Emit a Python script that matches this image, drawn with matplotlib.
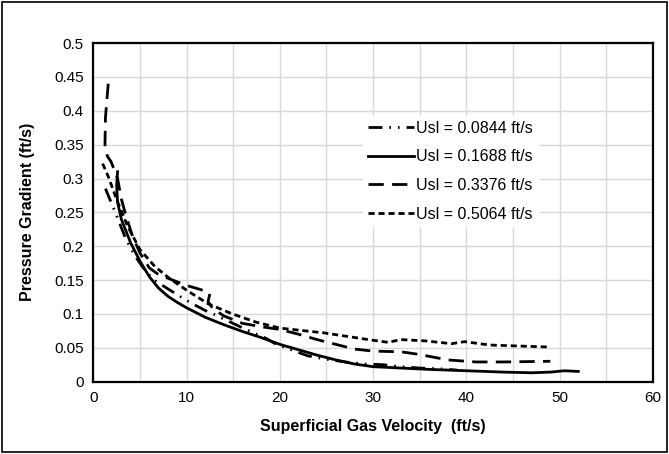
import matplotlib
matplotlib.use("Agg")
import matplotlib.pyplot as plt
from matplotlib.patches import Rectangle

plt.rcParams['font.family'] = ['Liberation Sans', 'DejaVu Sans']

# Usl = 0.0844 ft/s
x1 = [1.3, 1.9, 2.5, 3.5, 4.5, 5.5, 6.5, 8.0, 9.5, 10.5, 12.0, 13.0, 14.2, 15.6, 17.0, 18.5, 19.5, 21.0, 23.0, 25.0, 27.0, 29.0, 31.0, 33.0, 35.0, 37.0, 39.0]
y1 = [0.285, 0.265, 0.245, 0.21, 0.185, 0.165, 0.15, 0.137, 0.124, 0.116, 0.105, 0.099, 0.091, 0.082, 0.073, 0.064, 0.056, 0.048, 0.038, 0.033, 0.029, 0.026, 0.025, 0.022, 0.020, 0.019, 0.017]

# Usl = 0.1688 ft/s
x2 = [2.6, 2.5, 2.6, 3.0, 4.0, 5.0, 6.0, 7.0, 8.0, 9.0, 10.0, 12.0, 14.0, 16.0, 18.0, 20.0, 22.0, 24.0, 26.0, 28.0, 30.0, 33.0, 36.0, 40.0, 44.0, 47.0, 49.0, 50.5, 52.0]
y2 = [0.31, 0.29, 0.265, 0.24, 0.205, 0.178, 0.155, 0.138, 0.126, 0.117, 0.109, 0.095, 0.084, 0.074, 0.065, 0.055, 0.047, 0.039, 0.032, 0.026, 0.022, 0.020, 0.018, 0.016, 0.014, 0.013, 0.014, 0.016, 0.015]

# Usl = 0.3376 ft/s
x3 = [1.6, 1.3, 1.25, 1.5, 1.9, 2.6, 3.0, 3.5, 4.2, 5.0, 6.0, 7.0, 8.5, 10.0, 11.5, 12.5, 12.3, 12.8, 14.0, 16.0, 18.0, 20.0, 22.0, 24.0, 26.0, 28.0, 30.0, 33.0, 35.0, 38.0, 41.0, 44.0, 49.0]
y3 = [0.44, 0.39, 0.35, 0.333, 0.325, 0.30, 0.27, 0.245, 0.215, 0.19, 0.168, 0.158, 0.15, 0.142, 0.136, 0.13, 0.118, 0.108, 0.097, 0.086, 0.081, 0.077, 0.070, 0.062, 0.055, 0.048, 0.045, 0.044, 0.040, 0.032, 0.029, 0.029, 0.030]

# Usl = 0.5064 ft/s
x4 = [1.0, 1.6, 2.5, 3.7, 5.0, 6.6, 8.2, 10.0, 12.3, 14.9, 17.4, 20.0, 24.7, 30.0, 31.6, 33.0, 35.7, 38.4, 39.8, 42.5, 49.0]
y4 = [0.322, 0.303, 0.269, 0.229, 0.195, 0.17, 0.152, 0.135, 0.115, 0.1, 0.088, 0.079, 0.072, 0.061, 0.058, 0.062, 0.060, 0.056, 0.059, 0.054, 0.051]

labels = ["Usl = 0.0844 ft/s", "Usl = 0.1688 ft/s", "Usl = 0.3376 ft/s", "Usl = 0.5064 ft/s"]
xticks = [0, 10, 20, 30, 40, 50, 60]
yticks = [0, 0.05, 0.1, 0.15, 0.2, 0.25, 0.3, 0.35, 0.4, 0.45, 0.5]

fig = plt.figure(figsize=(6.69, 4.54), dpi=100)
ax = fig.add_axes([0.1395, 0.1595, 0.8365, 0.7455])

lw = 2.0
styles = [(0, (5, 2.5, 0.6, 2.5, 0.6, 2.5)), '-', (0, (5.5, 3)), (0, (2.2, 1.4))]
for xs, ys, st, lab in zip([x1, x2, x3, x4], [y1, y2, y3, y4], styles, labels):
    ax.plot(xs, ys, color='black', linestyle=st, linewidth=lw, label=lab)

ax.set_xlim(0, 60)
ax.set_ylim(0, 0.5)
ax.set_xticks(xticks)
ax.set_xticks([5, 15, 25, 35, 45, 55], minor=True)
ax.set_yticks(yticks)
ax.set_yticklabels(['%g' % v for v in yticks])
ax.grid(True, which='both', color='#d9d9d9', linewidth=1.0)
ax.set_axisbelow(True)
ax.tick_params(which='both', length=0, labelsize=11, pad=7)
for s in ax.spines.values():
    s.set_linewidth(1.6)
    s.set_color('black')

ax.set_xlabel('Superficial Gas Velocity  (ft/s)', fontsize=11.5, fontweight='bold', labelpad=10)
ax.set_ylabel('Pressure Gradient (ft/s)', fontsize=11.5, fontweight='bold', labelpad=14)

leg = ax.legend(loc='upper left', bbox_to_anchor=(355 / 669, 1 - 108 / 454),
                bbox_transform=fig.transFigure, frameon=True, fancybox=False,
                edgecolor='white', facecolor='white', framealpha=1.0,
                fontsize=11.5, handlelength=2.9, handletextpad=0.15,
                labelspacing=0.85, borderpad=0.3)

fig.patches.append(Rectangle((0.003, 0.005), 0.994, 0.99, transform=fig.transFigure,
                             fill=False, edgecolor='black', linewidth=1.2))

fig.savefig('out.png', dpi=100)
